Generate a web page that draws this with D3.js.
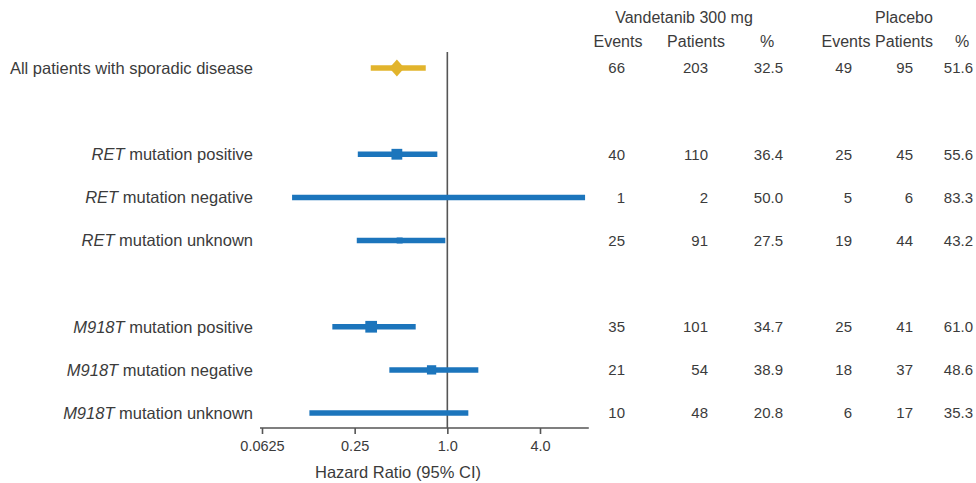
<!DOCTYPE html>
<html>
<head>
<meta charset="utf-8">
<script src="https://cdn.jsdelivr.net/npm/d3@7"></script>
<style>
  html, body { margin: 0; padding: 0; background: #fff; }
  svg { display: block; }
  text { font-family: "Liberation Sans", Arial, Helvetica, sans-serif; fill: #3b3b3b; }
</style>
</head>
<body>
<svg id="chart" width="976" height="483"></svg>
<script>
// ---------------- data ----------------
const labelPrefix = ["", "RET", "RET", "RET", "M918T", "M918T", "M918T"];
const labelText = ["All patients with sporadic disease", " mutation positive", " mutation negative", " mutation unknown",
                   " mutation positive", " mutation negative", " mutation unknown"];
const group = [0, 1, 1, 1, 2, 2, 2];
const hazardRatio = [0.47, 0.47, null, 0.49, 0.32, 0.79, null];
const ciLow  = [0.318, 0.262, 0.098, 0.258, 0.179, 0.42, 0.127];
const ciHigh = [0.724, 0.861, 7.85, 0.97, 0.623, 1.59, 1.369];
const markerWeight = [1.0, 0.72, 0, 0.4, 0.78, 0.62, 0];
const vanEvents   = [66, 40, 1, 25, 35, 21, 10];
const vanPatients = [203, 110, 2, 91, 101, 54, 48];
const vanPct      = ["32.5", "36.4", "50.0", "27.5", "34.7", "38.9", "20.8"];
const plaEvents   = [49, 25, 5, 19, 25, 18, 6];
const plaPatients = [95, 45, 6, 44, 41, 37, 17];
const plaPct      = ["51.6", "55.6", "83.3", "43.2", "61.0", "48.6", "35.3"];
const tickValues = [0.0625, 0.25, 1, 4];
const tickLabels = ["0.0625", "0.25", "1.0", "4.0"];
const axisTitle = "Hazard Ratio (95% CI)";
const groupHeaders = ["Vandetanib 300 mg", "Placebo"];
const colHeaders = ["Events", "Patients", "%", "Events", "Patients", "%"];

// ---------------- drawing ----------------
const svg = d3.select("#chart");
const blue = "#1c75bc", gold = "#e2b42c", axisColor = "#555";

const x = d3.scaleLog().base(2).domain([0.0625, 4]).range([262, 540]);
const y = d3.scaleLinear().domain([0, 8]).range([68, 413]);
const rows = labelText.map((t, i) => ({
  i, prefix: labelPrefix[i], text: t, slot: i + group[i],
  hr: hazardRatio[i], lo: ciLow[i], hi: ciHigh[i], w: markerWeight[i]
}));

const axisY = 428;

// reference line at HR = 1
svg.append("line")
  .attr("x1", x(1)).attr("x2", x(1))
  .attr("y1", 52).attr("y2", axisY)
  .attr("stroke", axisColor).attr("stroke-width", 1.6);

// axis
svg.append("line")
  .attr("x1", x(0.0625) - 2).attr("x2", x(8.3))
  .attr("y1", axisY).attr("y2", axisY)
  .attr("stroke", axisColor).attr("stroke-width", 1.6);

const axis = d3.axisBottom(x).tickValues(tickValues)
  .tickFormat((d, i) => tickLabels[i]).tickSize(6).tickSizeOuter(0).tickPadding(7);
const gAxis = svg.append("g").attr("transform", `translate(0,${axisY})`).call(axis);
gAxis.select(".domain").remove();
gAxis.selectAll(".tick line").attr("stroke", axisColor).attr("stroke-width", 1.6);
gAxis.selectAll(".tick text")
  .style("font-family", "'Liberation Sans', Arial, sans-serif")
  .style("font-size", "14.5px").attr("fill", "#3b3b3b");

svg.append("text")
  .attr("x", 398).attr("y", 472).attr("dy", "0.35em")
  .attr("text-anchor", "middle").style("font-size", "16.5px")
  .text(axisTitle);

// CI lines
svg.selectAll(".ci").data(rows).join("line")
  .attr("class", "ci")
  .attr("x1", d => x(d.lo)).attr("x2", d => x(d.hi))
  .attr("y1", d => y(d.slot)).attr("y2", d => y(d.slot))
  .attr("stroke", d => d.i === 0 ? gold : blue)
  .attr("stroke-width", 5.5);

// markers
rows.filter(d => d.hr != null && d.w > 0).forEach(d => {
  const cx = x(d.hr), cy = y(d.slot);
  if (d.i === 0) {
    const hw = 7.5 * d.w, hh = 8.5 * d.w;
    svg.append("path")
      .attr("d", `M${cx - hw},${cy}L${cx},${cy - hh}L${cx + hw},${cy}L${cx},${cy + hh}Z`)
      .attr("fill", gold);
  } else {
    const s = 15 * d.w;
    svg.append("rect")
      .attr("x", cx - s / 2).attr("y", cy - s / 2)
      .attr("width", s).attr("height", s).attr("fill", blue);
  }
});

// row labels
const lbl = svg.selectAll(".lbl").data(rows).join("text")
  .attr("class", "lbl")
  .attr("x", 253).attr("y", d => y(d.slot)).attr("dy", "0.35em")
  .attr("text-anchor", "end").style("font-size", "16.5px");
lbl.each(function (d) {
  const t = d3.select(this);
  if (d.prefix) t.append("tspan").style("font-style", "italic").text(d.prefix);
  t.append("tspan").text(d.text);
});

// table
const colRight = [625, 708, 783, 852, 913, 973];
const colData = [vanEvents, vanPatients, vanPct, plaEvents, plaPatients, plaPct];
colData.forEach((arr, c) => {
  svg.selectAll(".c" + c).data(rows).join("text")
    .attr("class", "c" + c)
    .attr("x", colRight[c]).attr("y", d => y(d.slot)).attr("dy", "0.35em")
    .attr("text-anchor", "end").style("font-size", "15px")
    .text(d => arr[d.i]);
});

// headers
const groupCenters = [684, 904];
svg.selectAll(".gh").data(groupHeaders).join("text")
  .attr("class", "gh")
  .attr("x", (d, i) => groupCenters[i]).attr("y", 17).attr("dy", "0.35em")
  .attr("text-anchor", "middle").style("font-size", "16px")
  .text(d => d);
const headCenters = [618, 696, 767, 846, 904, 962];
svg.selectAll(".ch").data(colHeaders).join("text")
  .attr("class", "ch")
  .attr("x", (d, i) => headCenters[i]).attr("y", 41).attr("dy", "0.35em")
  .attr("text-anchor", "middle").style("font-size", "16px")
  .text(d => d);
</script>
</body>
</html>
